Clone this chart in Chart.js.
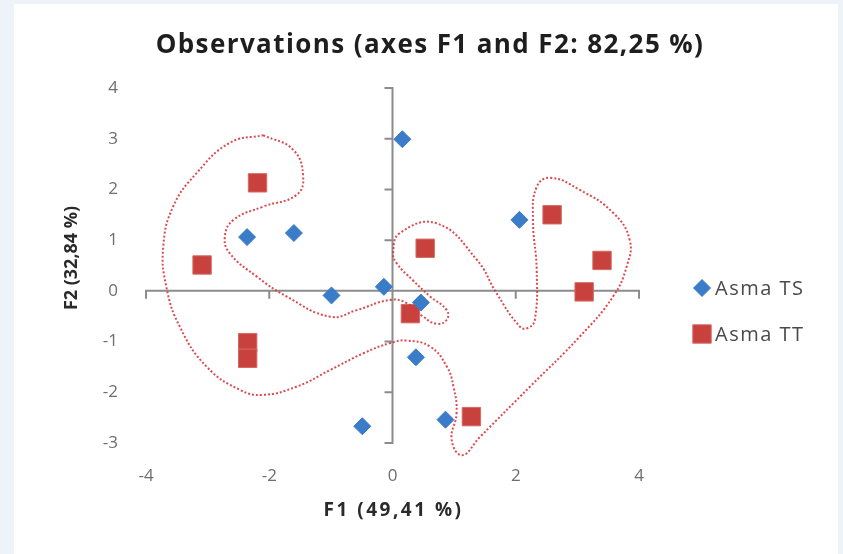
<!DOCTYPE html>
<html><head><meta charset="utf-8">
<script src="https://cdn.jsdelivr.net/npm/chart.js@4/dist/chart.umd.min.js"></script>
<style>
html,body{margin:0;padding:0;background:#eef3f9;width:843px;height:554px;overflow:hidden}
#frame{position:absolute;left:14px;top:4px;width:824px;height:550px;background:#fff;}
#wrap{position:absolute;left:0;top:0;width:843px;height:554px}
</style></head><body>
<div id="frame"></div>
<div id="wrap"><canvas id="c" width="843" height="554"></canvas></div>
<script>
// ---- data ----
const chartTitle = 'Observations (axes F1 and F2: 82,25 %)';
const xAxisTitle = 'F1 (49,41 %)';
const yAxisTitle = 'F2 (32,84 %)';
const xTicks = [-4, -2, 0, 2, 4];
const yTicks = [-3, -2, -1, 0, 1, 2, 3, 4];
const seriesNames = ['Asma TS', 'Asma TT'];
const tsX = [-2.36, -1.60, -0.99, -0.14, 0.16, 2.06, 0.46, 0.38, 0.86, -0.49];
const tsY = [1.06, 1.14, -0.09, 0.08, 2.99, 1.40, -0.23, -1.31, -2.54, -2.67];
const ttX = [-2.19, -3.09, -2.35, -2.35, 0.53, 2.59, 3.40, 3.11, 0.29, 1.28];
const ttY = [2.13, 0.51, -1.02, -1.33, 0.84, 1.50, 0.60, -0.02, -0.45, -2.48];
// hand-drawn dotted enclosure (data space)
const outlineX = [-2.10,-1.61,-1.45,-1.56,-2.10,-2.58,-2.72,-2.64,-2.20,-1.72,-1.01,-0.58,-0.04,0.23,0.50,0.72,0.88,0.88,0.61,0.33,0.07,0.01,0.12,0.72,1.37,1.69,2.07,2.20,2.31,2.34,2.28,2.34,2.56,3.04,3.58,3.85,3.80,3.58,3.04,2.23,1.42,1.13,0.96,1.04,0.99,0.88,0.61,0.23,-0.04,-0.47,-1.01,-1.56,-2.10,-2.48,-3.02,-3.45,-3.67,-3.72,-3.56,-3.18,-2.64,-2.10];
const outlineY = [3.07,2.78,2.25,1.89,1.66,1.40,1.07,0.74,0.28,-0.11,-0.51,-0.38,-0.18,-0.24,-0.51,-0.65,-0.57,-0.38,-0.11,0.21,0.54,0.75,1.14,1.33,0.61,-0.05,-0.71,-0.73,-0.57,0.41,1.40,2.05,2.23,1.99,1.54,1.00,0.48,-0.11,-0.90,-1.89,-2.88,-3.24,-2.94,-2.41,-1.89,-1.49,-1.10,-0.98,-1.03,-1.23,-1.56,-1.89,-2.05,-1.95,-1.49,-0.71,0.08,0.87,1.66,2.32,2.92,3.07];

const FONT = "'Open Sans', 'Liberation Sans', sans-serif";
const zip = (xs, ys) => xs.map((x, i) => ({x, y: ys[i]}));

const axesCross = {
  id: 'axesCross',
  beforeDatasetsDraw(chart) {
    const {ctx, scales: {x, y}} = chart;
    const x0 = x.getPixelForValue(0), y0 = y.getPixelForValue(0);
    ctx.save();
    ctx.strokeStyle = '#8c8c8c';
    ctx.lineWidth = 2;
    ctx.lineCap = 'butt';
    ctx.beginPath();
    ctx.moveTo(x.getPixelForValue(x.min), y0);
    ctx.lineTo(x.getPixelForValue(x.max), y0);
    xTicks.forEach(v => { const p = x.getPixelForValue(v); ctx.moveTo(p, y0 - 1); ctx.lineTo(p, y0 + 8); });
    ctx.moveTo(x0, y.getPixelForValue(y.min));
    ctx.lineTo(x0, y.getPixelForValue(y.max));
    yTicks.forEach(v => { const p = y.getPixelForValue(v); ctx.moveTo(x0 + 1, p); ctx.lineTo(x0 - 8, p); });
    ctx.stroke();
    ctx.restore();
  }
};

const titlesAndLegend = {
  id: 'titlesAndLegend',
  afterDraw(chart) {
    const {ctx, chartArea: ca} = chart;
    ctx.save();
    ctx.textAlign = 'center';
    ctx.textBaseline = 'middle';
    // chart title
    ctx.fillStyle = '#1e1e1e';
    ctx.font = `bold 26px ${FONT}`;
    ctx.letterSpacing = '1.4px';
    ctx.fillText(chartTitle, 430, 46);
    // x axis title
    ctx.fillStyle = '#2a2a2a';
    ctx.font = `bold 19px ${FONT}`;
    ctx.letterSpacing = '2.5px';
    ctx.fillText(xAxisTitle, (ca.left + ca.right) / 2 + 1, 511);
    // y axis title (rotated)
    ctx.letterSpacing = '0px';
    ctx.font = `bold 18px ${FONT}`;
    ctx.save();
    ctx.translate(72, 258);
    ctx.rotate(-Math.PI / 2);
    ctx.fillText(yAxisTitle, 0, 0);
    ctx.restore();
    // legend
    const items = [1, 2];
    const ly = [288, 334];
    ctx.font = `20px ${FONT}`;
    ctx.letterSpacing = '1.5px';
    ctx.textAlign = 'left';
    items.forEach((di, k) => {
      const ds = chart.data.datasets[di];
      ctx.fillStyle = ds.backgroundColor;
      ctx.strokeStyle = ds.borderColor;
      ctx.lineWidth = ds.borderWidth;
      Chart.helpers.drawPoint(ctx, {pointStyle: ds.pointStyle, radius: ds.pointRadius, rotation: 0, borderWidth: ds.borderWidth}, 702, ly[k]);
      ctx.fillStyle = '#4a4a4a';
      ctx.fillText(ds.label, 715, ly[k] + 1);
    });
    ctx.restore();
  }
};

new Chart(document.getElementById('c'), {
  type: 'scatter',
  data: {
    datasets: [
      {label: 'outline', data: zip(outlineX, outlineY), showLine: true, tension: 0.45, capBezierPoints: false,
       borderColor: 'rgba(215,55,60,0.9)', borderWidth: 2, borderDash: [2, 2], pointRadius: 0, pointHoverRadius: 0,
       fill: false, clip: false, order: 0},
      {label: seriesNames[0], data: zip(tsX, tsY), pointStyle: 'rectRot', pointRadius: 8.5, pointHoverRadius: 8.5,
       backgroundColor: '#3b7cc8', borderColor: '#3b7cc8', borderWidth: 1, order: 1},
      {label: seriesNames[1], data: zip(ttX, ttY), pointStyle: 'rect', pointRadius: 13, pointHoverRadius: 13,
       backgroundColor: '#c8413c', borderColor: '#d46a66', borderWidth: 1, order: 2}
    ]
  },
  options: {
    responsive: false,
    devicePixelRatio: 1,
    animation: false,
    events: [],
    layout: {padding: {left: 15, top: 88, right: 204, bottom: 0}},
    plugins: {legend: {display: false}, title: {display: false}, tooltip: {enabled: false}},
    scales: {
      x: {
        type: 'linear', min: -4, max: 4,
        afterBuildTicks: s => { s.ticks = xTicks.map(v => ({value: v})); },
        afterFit: s => { s.height = 111; },
        grid: {display: false, drawTicks: false},
        border: {display: false},
        ticks: {padding: 23, color: '#6e6e6e', font: {family: FONT, size: 17}},
        title: {display: false, text: xAxisTitle}
      },
      y: {
        type: 'linear', min: -3, max: 4,
        afterBuildTicks: s => { s.ticks = yTicks.map(v => ({value: v})); },
        afterFit: s => { s.width = 131; },
        grid: {display: false, drawTicks: false},
        border: {display: false},
        ticks: {padding: 28, color: '#6e6e6e', font: {family: FONT, size: 17}},
        title: {display: false, text: yAxisTitle}
      }
    }
  },
  plugins: [axesCross, titlesAndLegend]
});
</script>
</body></html>
